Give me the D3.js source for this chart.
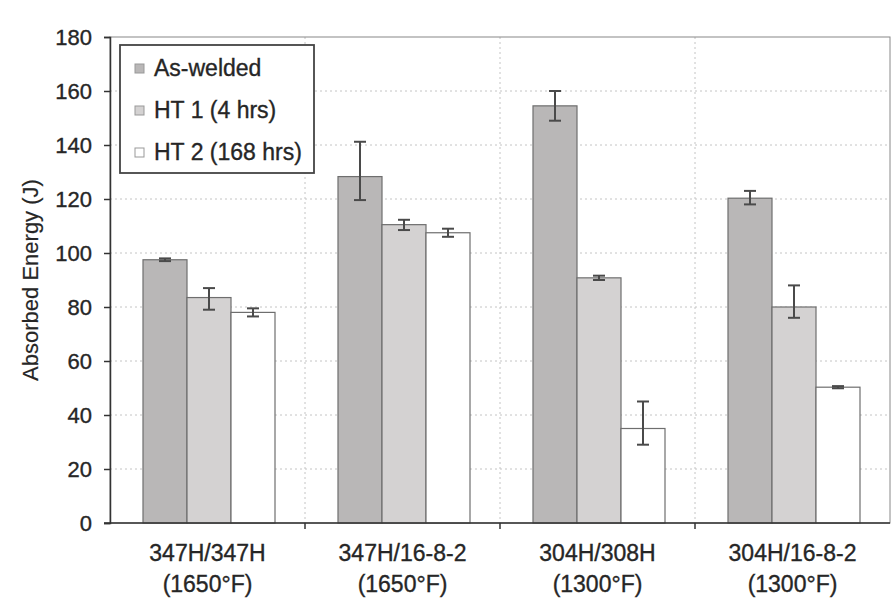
<!DOCTYPE html>
<html>
<head>
<meta charset="UTF-8">
<title>Absorbed Energy</title>
<script src="https://cdn.jsdelivr.net/npm/d3@7"></script>
<style>
body{margin:0;background:#fff;}
text{font-family:"Liberation Sans",Arial,sans-serif;fill:#262626;stroke:#262626;stroke-width:0.35px;}
</style>
</head>
<body>
<div id="chart"></div>
<script>
// data
var categories=["347H/347H","347H/16-8-2","304H/308H","304H/16-8-2"];
var temps=["(1650\u00b0F)","(1650\u00b0F)","(1300\u00b0F)","(1300\u00b0F)"];
var seriesNames=["As-welded","HT 1 (4 hrs)","HT 2 (168 hrs)"];
var asWelded=[97.5,128.3,154.5,120.3];
var asWeldedLo=[97,119.6,149,118];
var asWeldedHi=[98,141.2,160,123];
var ht1=[83.5,110.5,90.8,80];
var ht1Lo=[79,108.5,90,76];
var ht1Hi=[87,112.3,91.6,88];
var ht2=[78,107.5,35,50.3];
var ht2Lo=[76.5,106,29,49.9];
var ht2Hi=[79.5,109,45,50.7];
var yTicks=[0,20,40,60,80,100,120,140,160,180];

var w=893,h=608;
var padL=110,padR=890,padT=37,padB=523;
var fills=["#b9b7b7","#d4d2d2","#ffffff"];

var series=[
  {vals:asWelded,lo:asWeldedLo,hi:asWeldedHi},
  {vals:ht1,lo:ht1Lo,hi:ht1Hi},
  {vals:ht2,lo:ht2Lo,hi:ht2Hi}
];

var svg=d3.select('#chart').append('svg')
  .attr('width',w)
  .attr('height',h);

var x0=d3.scaleBand().domain(categories).range([padL,padR]).padding(0);
var x1=d3.scaleBand().domain([0,1,2]).range([33,x0.bandwidth()-30]).padding(0);
var y=d3.scaleLinear().domain([0,180]).range([padB,padT]);

// gridlines
svg.append('g').selectAll('line')
  .data(yTicks.slice(1,-1))
  .enter().append('line')
  .attr('x1',padL).attr('x2',padR)
  .attr('y1',function(d){return y(d);})
  .attr('y2',function(d){return y(d);})
  .attr('stroke','#c4c4c4')
  .attr('stroke-dasharray','2,3');

svg.append('g').selectAll('line')
  .data(categories.slice(1))
  .enter().append('line')
  .attr('x1',function(d){return x0(d);})
  .attr('x2',function(d){return x0(d);})
  .attr('y1',padT).attr('y2',padB)
  .attr('stroke','#c4c4c4')
  .attr('stroke-dasharray','2,3');

// plot border
svg.append('rect')
  .attr('x',padL).attr('y',padT)
  .attr('width',padR-padL).attr('height',padB-padT)
  .attr('fill','none')
  .attr('stroke','#888')
  .attr('stroke-width',1);

// bars
series.forEach(function(s,si){
  var g=svg.append('g');
  g.selectAll('rect')
    .data(categories)
    .enter().append('rect')
    .attr('x',function(d){return x0(d)+x1(si);})
    .attr('width',x1.bandwidth())
    .attr('y',function(d,i){return y(s.vals[i]);})
    .attr('height',function(d,i){return padB-y(s.vals[i]);})
    .attr('fill',fills[si])
    .attr('stroke','#6e6e6e')
    .attr('stroke-width',1.2);
});

// error bars
series.forEach(function(s,si){
  var g=svg.append('g').attr('stroke','#4a4a4a').attr('stroke-width',2);
  categories.forEach(function(c,i){
    var cx=x0(c)+x1(si)+x1.bandwidth()/2;
    g.append('line').attr('x1',cx).attr('x2',cx)
      .attr('y1',y(s.lo[i])).attr('y2',y(s.hi[i]));
    g.append('line').attr('x1',cx-6).attr('x2',cx+6)
      .attr('y1',y(s.lo[i])).attr('y2',y(s.lo[i]));
    g.append('line').attr('x1',cx-6).attr('x2',cx+6)
      .attr('y1',y(s.hi[i])).attr('y2',y(s.hi[i]));
  });
});

// y axis
var yAxis=svg.append('g')
  .attr('transform','translate('+padL+',0)')
  .call(d3.axisLeft(y).tickValues(yTicks).tickSize(6).tickPadding(12));
yAxis.select('path').attr('stroke','#333').attr('stroke-width',1.5);
yAxis.selectAll('line').attr('stroke','#333').attr('stroke-width',1.5);
yAxis.selectAll('text').style('font-size','22px').attr('fill','#262626')
  .style('font-family','"Liberation Sans",Arial,sans-serif');

// x axis
svg.append('line')
  .attr('x1',padL-6).attr('x2',padR)
  .attr('y1',padB).attr('y2',padB)
  .attr('stroke','#333').attr('stroke-width',1.5);
svg.append('g').selectAll('line')
  .data(categories.slice(1))
  .enter().append('line')
  .attr('x1',function(d){return x0(d);})
  .attr('x2',function(d){return x0(d);})
  .attr('y1',padB).attr('y2',padB+6)
  .attr('stroke','#333').attr('stroke-width',1.5);

var xl=svg.append('g').attr('text-anchor','middle').style('font-size','23px');
xl.selectAll('text.l1')
  .data(categories)
  .enter().append('text')
  .attr('class','l1')
  .attr('x',function(d){return x0(d)+x0.bandwidth()/2;})
  .attr('y',561)
  .text(function(d){return d;});
xl.selectAll('text.l2')
  .data(temps)
  .enter().append('text')
  .attr('class','l2')
  .attr('x',function(d,i){return x0(categories[i])+x0.bandwidth()/2;})
  .attr('y',592)
  .text(function(d){return d;});

// y title
svg.append('text')
  .attr('transform','translate(38,280) rotate(-90)')
  .attr('text-anchor','middle')
  .style('font-size','22px')
  .style('stroke-width','0.2px')
  .text('Absorbed Energy (J)');

// legend
var lg=svg.append('g');
lg.append('rect')
  .attr('x',120).attr('y',45)
  .attr('width',194).attr('height',128)
  .attr('fill','#fff')
  .attr('stroke','#444')
  .attr('stroke-width',1.8);
seriesNames.forEach(function(n,i){
  var cy=68+i*42;
  lg.append('rect')
    .attr('x',135).attr('y',cy-4)
    .attr('width',9).attr('height',9)
    .attr('fill',fills[i])
    .attr('stroke','#999');
  lg.append('text')
    .attr('x',154).attr('y',cy+8)
    .style('font-size','23px')
    .text(n);
});
</script>
</body>
</html>
